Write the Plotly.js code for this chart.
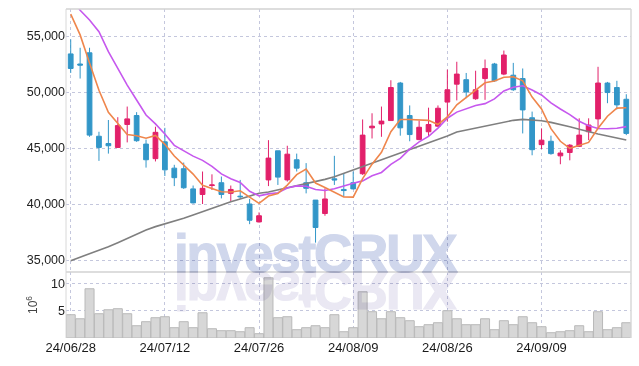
<!DOCTYPE html>
<html>
<head>
<meta charset="utf-8">
<script src="https://cdn.plot.ly/plotly-3.0.1.min.js"></script>
<style>
html,body{margin:0;padding:0;background:#fff;}
#wrap{position:relative;width:639px;height:366px;}
#chart{position:absolute;left:0;top:0;width:639px;height:366px;}
.wm{position:absolute;white-space:nowrap;pointer-events:none;font-family:Arial,'Liberation Sans',sans-serif;font-weight:700;font-size:53px;line-height:53px;letter-spacing:-2.2px;mix-blend-mode:multiply;}
#wm1{left:174px;top:227px;color:rgb(208,215,236);-webkit-text-stroke:1.2px rgb(208,215,236);}
#wm2{left:174px;top:264px;color:rgb(234,232,243);-webkit-text-stroke:1.2px rgb(234,232,243);transform:scaleY(-1);}
</style>
</head>
<body>
<div id="wrap">
<div id="chart"></div>
<div class="wm" id="wm1">investCRUX</div>
<div class="wm" id="wm2">investCRUX</div>
</div>
<script>
const dates = ['24/06/28','24/07/01','24/07/02','24/07/03','24/07/04','24/07/05','24/07/08','24/07/09','24/07/10','24/07/11','24/07/12',
 '24/07/15','24/07/16','24/07/17','24/07/18','24/07/19','24/07/22','24/07/23','24/07/24','24/07/25','24/07/26',
 '24/07/29','24/07/30','24/07/31','24/08/01','24/08/02','24/08/05','24/08/06','24/08/07','24/08/08','24/08/09',
 '24/08/12','24/08/13','24/08/14','24/08/16','24/08/19','24/08/20','24/08/21','24/08/22','24/08/23',
 '24/08/26','24/08/27','24/08/28','24/08/29','24/08/30','24/09/02','24/09/03','24/09/04','24/09/05','24/09/06',
 '24/09/09','24/09/10','24/09/11','24/09/12','24/09/13','24/09/19','24/09/20','24/09/23','24/09/24','24/09/25'];
const openP = [53400,52500,53500,46050,45400,45050,47100,47900,45350,44050,45550,43200,43150,41350,40850,41650,41900,40950,40700,40000,38400,42150,44750,42150,43950,41900,40350,39150,42250,41300,41900,42700,46800,47150,47450,50800,47900,45750,46450,46950,49100,50700,51100,49400,51200,52500,51600,51500,51200,47700,45300,45600,44300,44600,45150,46450,47600,50800,50400,49350];
const highP = [54700,53950,53950,46450,47500,47750,48700,48200,45750,46900,46800,43500,43700,41650,42900,42650,42450,41650,42150,40450,39250,45700,44750,45200,44500,43650,40350,41400,44300,42750,42900,47550,48100,48700,51050,50900,48800,47450,48600,48800,52000,52700,51700,51900,52900,52600,53700,52600,52100,48250,46750,46100,44800,45350,47650,47650,52250,50900,51000,49800];
const lowP = [51700,51200,46000,43850,44500,45000,45500,45550,43250,43800,42500,41600,41350,40050,40000,41250,40500,40250,40450,38200,38350,41600,41700,42000,42900,40950,36550,38950,41700,40650,41300,42600,45850,46000,47450,46100,45600,45700,46050,46900,47350,49250,49450,49300,49300,50900,51500,50100,46300,44350,44900,44400,43550,43900,45100,45700,46750,49000,48450,46150];
const closeP = [52100,52400,46150,45050,45200,47000,47600,45650,43950,46400,43050,42350,41450,40100,41400,41700,40850,41300,40650,38550,38950,44100,42400,44450,43200,41400,37900,40450,42150,41200,41350,46150,46950,47400,50400,46800,46200,46850,47100,48550,50200,51600,50000,50200,52100,51000,53300,50200,48400,44850,45700,44500,44550,45250,46150,47050,50800,49950,48850,46300];
const ma5 = [56960,55100,52600,50150,48180,47160,46200,46100,45880,46120,45330,44280,43440,42670,41670,41400,41100,41070,41180,40610,40060,40710,40930,41690,42620,43110,41870,41480,41020,40620,40610,42260,43560,44610,46450,47540,47550,47530,47470,47100,47780,48860,49490,50110,50820,50980,51320,51360,51000,49550,48490,46730,45600,44970,45230,45500,46760,47840,48560,48590];
const ma10 = [58450,57300,56430,55380,53600,52110,50620,49290,47950,47150,46245,45240,44770,44275,43895,43365,42690,42255,41925,41140,40730,40905,41000,41435,41615,41585,41290,41205,41355,41620,41860,42065,42520,42815,43535,44075,44905,45545,46040,46775,47660,48205,48510,48790,48960,49380,50090,50425,50555,50185,49735,49025,48480,47985,47390,46995,46745,46720,46765,46910];
const ma60 = [34940,35240,35540,35890,36190,36550,36940,37290,37680,37980,38220,38420,38720,39020,39320,39610,39940,40210,40450,40720,40960,41070,41250,41460,41670,41850,42000,42200,42440,42740,43040,43330,43630,43990,44230,44520,44820,45120,45420,45770,46070,46430,46610,46760,46970,47140,47320,47470,47560,47530,47440,47290,47110,46900,46670,46430,46250,46070,45860,45710];
const volume = [4.27,3.53,9.03,4.45,5.18,5.37,4.45,2.25,2.99,3.72,3.9,1.89,2.99,1.89,4.63,1.7,1.34,1.34,1.15,1.89,0.79,11.04,3.72,3.9,1.52,1.89,2.25,1.89,4.27,1.15,1.89,8.48,4.82,3.53,4.82,3.72,3.17,2.07,2.44,2.8,5.0,3.53,2.44,2.44,3.53,1.52,3.17,2.44,3.9,2.8,2.07,0.97,1.15,1.34,2.25,1.15,4.82,1.52,1.89,2.8];
const xTickLabels = ['24/06/28','24/07/12','24/07/26','24/08/09','24/08/26','24/09/09'];
const priceTicks = [35000,40000,45000,50000,55000];
const volTicks = [5,10];

const RED = '#e2206a', BLUE = '#3296c8';
const GRID = '#c4c7dd';
const tickFont = {family:'Liberation Sans, Arial, sans-serif', size:12.5, color:'#222'};

const traces = [
  {type:'candlestick', x:dates, open:openP, high:highP, low:lowP, close:closeP,
   xaxis:'x', yaxis:'y',
   increasing:{line:{color:RED,width:1}, fillcolor:RED},
   decreasing:{line:{color:BLUE,width:1}, fillcolor:BLUE},
   whiskerwidth:0, hoverinfo:'skip'},
  {type:'scatter', mode:'lines', x:dates, y:ma60, xaxis:'x', yaxis:'y', line:{color:'#7f7f7f',width:1.6}, hoverinfo:'skip'},
  {type:'scatter', mode:'lines', x:dates, y:ma10, xaxis:'x', yaxis:'y', line:{color:'#c658ee',width:1.6}, hoverinfo:'skip'},
  {type:'scatter', mode:'lines', x:dates, y:ma5, xaxis:'x', yaxis:'y', line:{color:'#ef864c',width:1.6}, hoverinfo:'skip'},
  {type:'bar', x:dates, y:volume, xaxis:'x', yaxis:'y2',
   marker:{color:'#d7d7d7', line:{color:'#b9b9b9', width:1}}, hoverinfo:'skip'}
];

const split = (338-272)/329;
const layout = {
  width:639, height:366,
  margin:{l:66, r:8, t:9, b:28},
  paper_bgcolor:'#fff', plot_bgcolor:'#fff',
  showlegend:false, hovermode:false,
  boxgap:0.28, bargap:0.04,
  xaxis:{type:'category', anchor:'y2', range:[-0.5, dates.length-0.5],
    rangeslider:{visible:false},
    tickmode:'array', tickvals:xTickLabels, ticktext:xTickLabels,
    showgrid:true, gridcolor:GRID, griddash:'dot', gridwidth:1,
    showline:false, zeroline:false, ticks:'',
    tickfont:{family:'Liberation Sans, Arial, sans-serif', size:13, color:'#1a1a1a'}},
  yaxis:{domain:[split,1], range:[33929,57411],
    tickmode:'array', tickvals:priceTicks, tickformat:',d',
    showgrid:true, gridcolor:GRID, griddash:'dot', gridwidth:1,
    zeroline:false, showline:false, ticks:'', tickfont:tickFont},
  yaxis2:{domain:[0,split], range:[0,12.1],
    tickmode:'array', tickvals:volTicks, ticktext:volTicks.map(String),
    showgrid:true, gridcolor:GRID, griddash:'dot', gridwidth:1,
    zeroline:false, showline:false, ticks:'', tickfont:tickFont,
    title:{text:'10<sup>6</sup>', font:{family:'Liberation Sans, Arial, sans-serif', size:12, color:'#444'}, standoff:10}},
  shapes:[
    {type:'line', xref:'paper', yref:'paper', x0:0, x1:1, y0:1, y1:1, line:{color:'#d2d2d2', width:1.5}},
    {type:'line', xref:'paper', yref:'paper', x0:0, x1:1, y0:split, y1:split, line:{color:'#d2d2d2', width:1.5}},
    {type:'line', xref:'paper', yref:'paper', x0:0, x1:0, y0:0, y1:1, line:{color:'#d8d8d8', width:1}},
    {type:'line', xref:'paper', yref:'paper', x0:1, x1:1, y0:0, y1:1, line:{color:'#d8d8d8', width:1.5}}
  ]
};
Plotly.newPlot('chart', traces, layout, {displayModeBar:false, staticPlot:true});
</script>
</body>
</html>
